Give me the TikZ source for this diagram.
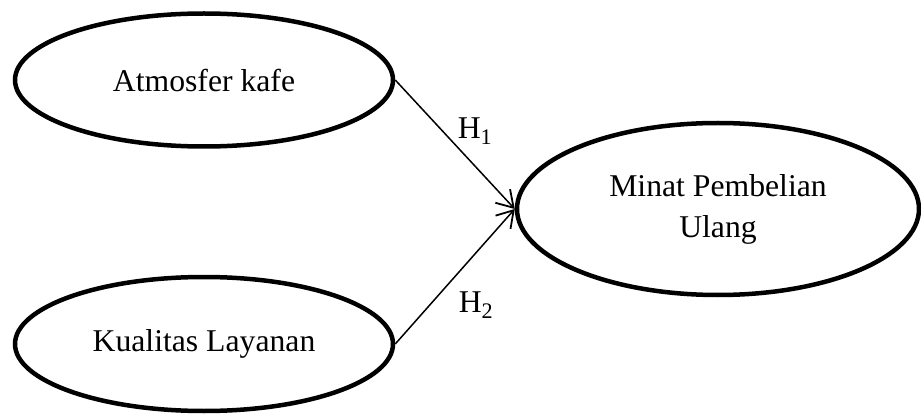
\documentclass[tikz,border=0pt]{standalone}
\usepackage{fontspec}
\setmainfont{Liberation Serif}
\usetikzlibrary{shapes.geometric,arrows.meta}

\tikzset{
  varbox/.style={draw, ellipse, line width=4.5pt, inner sep=0pt, align=center},
  hyparrow/.style={line width=1.5pt, -{Straight Barb[length=16pt, width=20pt, line width=1.8pt]}},
  hyplabel/.style={inner sep=0pt}
}

\begin{document}
\begin{tikzpicture}[x=1pt, y=-1pt, font=\fontsize{31.7}{41}\selectfont]
        \useasboundingbox (0, 0) rectangle (921, 414);
        % variables
        \node[varbox, minimum width=378pt, minimum height=133pt] (atm) at (204, 80) {Atmosfer kafe};
        \node[varbox, minimum width=378pt, minimum height=134pt] (kual) at (204, 344) {Kualitas Layanan};
        \node[varbox, minimum width=402pt, minimum height=172pt] (minat) at (718, 209) {Minat Pembelian\\Ulang};
        % hipotesis
        \draw[hyparrow] (atm.east) -- (minat.west);
        \draw[hyparrow] (kual.east) -- (minat.west);
        \node[hyplabel] (h1) at (475, 131) {H\textsubscript{1}};
        \node[hyplabel] (h2) at (476, 305) {H\textsubscript{2}};
    \end{tikzpicture}
\end{document}
